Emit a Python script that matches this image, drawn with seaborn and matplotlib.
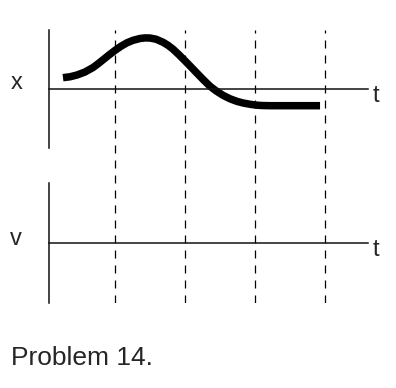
import matplotlib
matplotlib.use("Agg")
import matplotlib.pyplot as plt
import seaborn as sns
import pandas as pd

# Position curve x(t) (t in units of the dashed-line spacing)
t_values = [0.257, 0.357, 0.457, 0.571, 0.686, 0.757, 0.829, 0.914, 1.0, 1.086,
            1.171, 1.257, 1.357, 1.429, 1.5, 1.586, 1.686, 1.757, 1.829, 1.914,
            2.0, 2.086, 2.171, 2.257, 2.357, 2.443, 2.543, 2.643, 2.743, 2.829,
            2.929, 3.014, 3.1, 3.214, 3.929]
x_values = [0.192, 0.207, 0.237, 0.288, 0.364, 0.427, 0.495, 0.576, 0.654, 0.725,
            0.783, 0.825, 0.856, 0.866, 0.864, 0.844, 0.792, 0.741, 0.675, 0.580,
            0.478, 0.373, 0.268, 0.163, 0.047, -0.031, -0.107, -0.166, -0.210, -0.237,
            -0.259, -0.273, -0.280, -0.283, -0.283]
dashed_t = [1, 2, 3, 4]
top_label = "x"
bottom_label = "v"
axis_label = "t"
caption = "Problem 14."

sns.set_style("white")
plt.rcParams["font.family"] = ["Liberation Sans", "DejaVu Sans"]

W, H = 396, 388
fig = plt.figure(figsize=(W / 100, H / 100), dpi=100)

def fx(px):
    return px / W

def fy(py):
    return 1 - py / H

xlim = (0.0571, 4.614)
left, right = 49, 368

def make_axes(top_px, bottom_px):
    ax = fig.add_axes([fx(left), fy(bottom_px), fx(right) - fx(left), fy(top_px) - fy(bottom_px)])
    ax.set_xlim(*xlim)
    ax.set_ylim(-1, 1)
    for s in ["top", "right"]:
        ax.spines[s].set_visible(False)
    ax.spines["bottom"].set_position(("data", 0))
    for s in ["left", "bottom"]:
        ax.spines[s].set_color("#111111")
        ax.spines[s].set_linewidth(1.1)
    ax.set_xticks([])
    ax.set_yticks([])
    ax.patch.set_alpha(0)
    return ax

# dashed guide lines spanning both panels
ax_d = fig.add_axes([fx(left), fy(303), fx(right) - fx(left), fy(30) - fy(303)])
ax_d.set_xlim(*xlim)
ax_d.set_ylim(0, 1)
ax_d.axis("off")
for tv in dashed_t:
    ax_d.axvline(tv, color="black", lw=0.9, linestyle=(0, (6.4, 5.6)))

ax_top = make_axes(30, 148)
ax_bot = make_axes(183, 303)

df = pd.DataFrame({"t": t_values, "x": x_values})
sns.lineplot(data=df, x="t", y="x", ax=ax_top, color="black", lw=5.4,
             sort=False, solid_capstyle="butt", solid_joinstyle="round")
ax_top.set_xlabel("")
ax_top.set_ylabel("")
ax_top.set_xlim(*xlim)
ax_top.set_ylim(-1, 1)

fs = 17
fig.text(fx(11), fy(89), top_label, fontsize=fs, ha="left", va="baseline")
fig.text(fx(373), fy(101.5), axis_label, fontsize=fs, ha="left", va="baseline")
fig.text(fx(10), fy(245), bottom_label, fontsize=fs, ha="left", va="baseline")
fig.text(fx(373), fy(255.5), axis_label, fontsize=fs, ha="left", va="baseline")
fig.text(fx(11), fy(365), caption, fontsize=19, ha="left", va="baseline")

fig.savefig("out.png", dpi=100)
